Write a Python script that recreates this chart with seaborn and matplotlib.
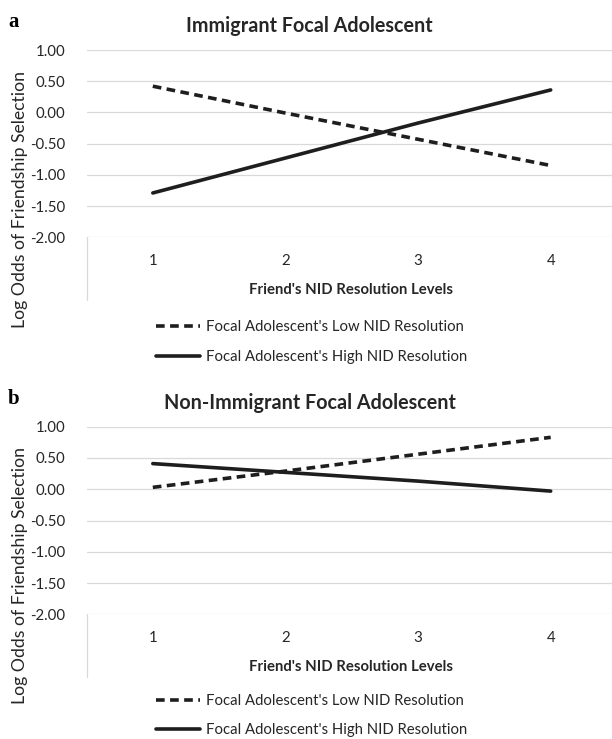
import pandas as pd
import seaborn as sns
import matplotlib.pyplot as plt

levels = [1, 2, 3, 4]
low_label = "Focal Adolescent's Low NID Resolution"
high_label = "Focal Adolescent's High NID Resolution"

immigrant_low = [0.42, -0.01, -0.43, -0.85]
immigrant_high = [-1.29, -0.73, -0.17, 0.36]
nonimm_low = [0.03, 0.29, 0.56, 0.83]
nonimm_high = [0.41, 0.27, 0.13, -0.03]

y_ticks = [-2.0, -1.5, -1.0, -0.5, 0.0, 0.5, 1.0]

sns.set_theme(style="white")
plt.rcParams["font.family"] = ["Lato", "DejaVu Sans"]

W, H = 612, 739
fig = plt.figure(figsize=(W / 100, H / 100), dpi=100)
ink = "#1e1e1e"
grid = "#d9d9d9"
text_col = "#262626"


def draw_panel(top, bottom, low, high, title, letter, leg_off=82.5, leg_space=1.1):
    ax = fig.add_axes([86.5 / W, 1 - bottom / H, (617 - 86.5) / W, (bottom - top) / H])
    df = pd.DataFrame({
        "level": levels * 2,
        "value": low + high,
        "series": [low_label] * 4 + [high_label] * 4,
    })
    sns.lineplot(
        data=df, x="level", y="value", style="series",
        style_order=[low_label, high_label],
        dashes={low_label: (2.4, 1.5), high_label: ""},
        color=ink, linewidth=2.6, legend=False, ax=ax,
    )
    for ln in ax.lines:
        ln.set_solid_capstyle("round")

    ax.set_xlim(0.5, 4.5)
    ax.set_ylim(-2.0, 1.0)
    ax.set_xticks(levels)
    ax.set_yticks(y_ticks)
    ax.set_yticklabels([f"{v:.2f}" for v in y_ticks])
    ax.tick_params(axis="y", length=0, pad=15, labelsize=10.8, labelcolor=text_col)
    ax.tick_params(axis="x", length=0, pad=12, labelsize=10.8, labelcolor=text_col)
    ax.grid(axis="y", color=grid, linewidth=0.9)
    ax.set_axisbelow(True)
    for s in ax.spines.values():
        s.set_visible(False)
    ax.set_xlabel("")
    ax.set_ylabel("")
    # category axis left boundary line
    ax.plot([0, 0], [0, -0.336], transform=ax.transAxes, color=grid,
            linewidth=0.9, clip_on=False)

    fig.text(309.5 / W, 1 - (top - 24) / H, title, ha="center", va="center",
             fontsize=14.2, fontweight="bold", color=text_col)
    fig.text(14 / W, 1 - (top - 28) / H, letter, ha="center", va="center",
             fontsize=15, fontweight="bold", family="Liberation Serif", color="black")
    fig.text(351 / W, 1 - (bottom + 53) / H, "Friend's NID Resolution Levels",
             ha="center", va="center", fontsize=10.7, fontweight="bold", color=text_col)
    fig.text(20 / W, 1 - (top + 149) / H, "Log Odds of Friendship Selection",
             ha="center", va="center", rotation=90, fontsize=12.7, color=text_col)

    fig.legend(
        ax.lines[:2], [low_label, high_label],
        loc="upper left", bbox_to_anchor=(156 / W, 1 - (bottom + leg_off) / H),
        frameon=False, fontsize=10.7, handlelength=2.95, handletextpad=0.42,
        labelspacing=leg_space, borderpad=0, borderaxespad=0, labelcolor=text_col,
    )


draw_panel(50, 237.3, immigrant_low, immigrant_high, "Immigrant Focal Adolescent", "a")
draw_panel(426.7, 614.3, nonimm_low, nonimm_high, "Non-Immigrant Focal Adolescent", "b",
           leg_off=80, leg_space=1.0)

fig.savefig("out.png", dpi=100)
